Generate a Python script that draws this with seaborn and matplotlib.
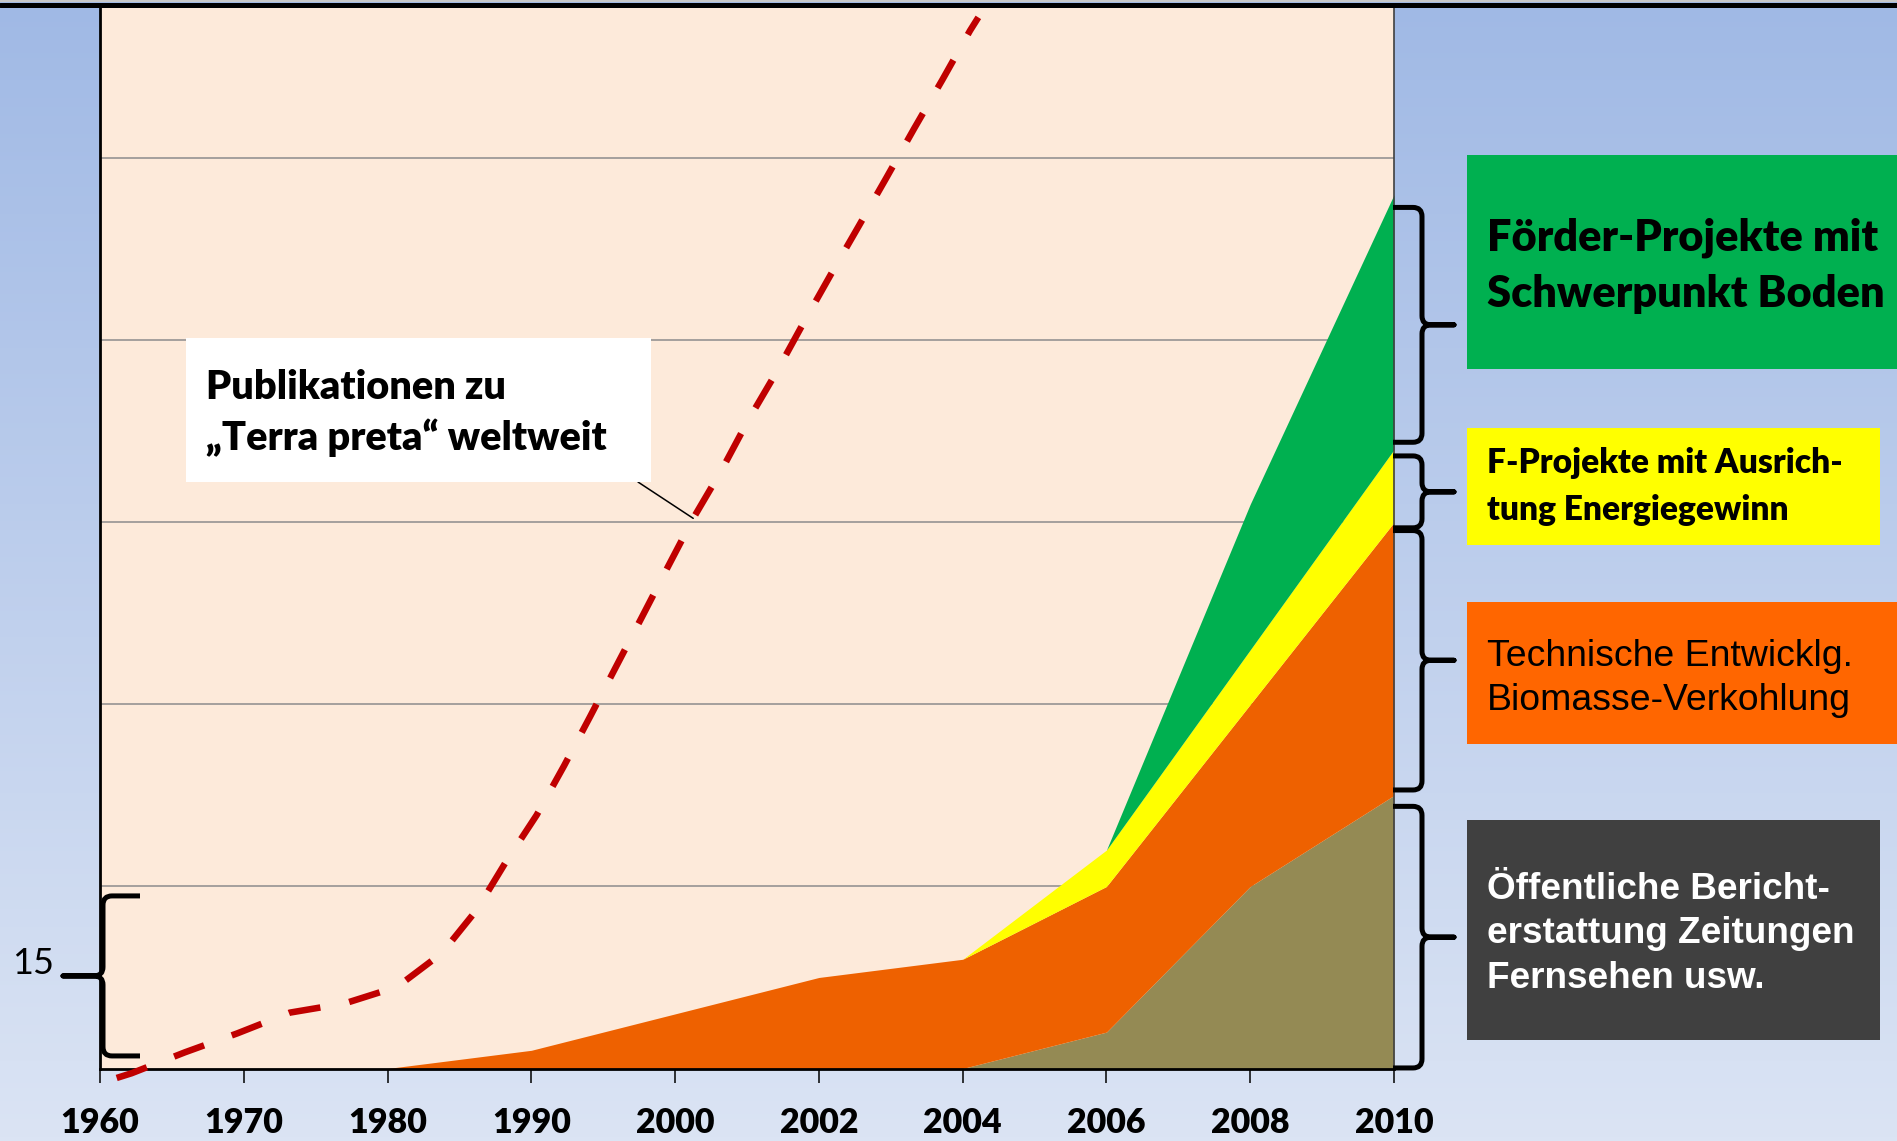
import matplotlib
matplotlib.use("Agg")
import numpy as np
import pandas as pd
import matplotlib.pyplot as plt
import seaborn as sns
from matplotlib.patches import Rectangle, PathPatch
from matplotlib.path import Path
from matplotlib.transforms import IdentityTransform

# ---------------------------------------------------------------- data
years = ["1960", "1970", "1980", "1990", "2000", "2002", "2004", "2006", "2008", "2010"]

# stacked layers, bottom to top
medien = [0, 0, 0, 0, 0, 0, 0, 2, 10, 15]     # Öffentliche Berichterstattung
technik = [0, 0, 0, 1, 3, 5, 6, 8, 10, 15]    # Technische Entwicklung
energie = [0, 0, 0, 0, 0, 0, 0, 2, 3, 4]      # F-Projekte Energiegewinn
boden = [0, 0, 0, 0, 0, 0, 0, 0, 8, 14]       # Förder-Projekte Boden

# publications curve: position on the category axis and value
pub_pos = [0.116, 0.220, 0.591, 0.955, 1.321, 1.704, 2.068, 2.377, 2.620, 2.817,
           3.037, 3.227, 3.408, 3.589, 3.768, 3.948, 4.126, 4.324, 4.509, 4.707,
           4.891, 5.084, 5.279, 5.471, 5.663, 5.858, 6.051, 6.109]
pub_val = [-0.52, -0.26, 0.89, 1.93, 3.07, 3.58, 4.49, 6.33, 8.71, 11.27,
           13.92, 16.62, 19.32, 22.07, 24.78, 27.53, 30.22, 32.88, 35.62, 38.28,
           40.93, 43.63, 46.30, 48.95, 51.64, 54.30, 57.01, 57.74]

pub_label = ["Publikationen zu", "\u201eTerra preta\u201c weltweit"]
box_labels = [
    ["Förder-Projekte mit", "Schwerpunkt Boden"],
    ["F-Projekte mit Ausrich-", "tung Energiegewinn"],
    ["Technische Entwicklg.", "Biomasse-Verkohlung"],
    ["Öffentliche Bericht-", "erstattung Zeitungen", "Fernsehen usw."],
]
left_label = "15"

# value ranges covered by the curly braces
brace_spans = [(34.4, 47.3), (29.7, 33.65), (15.3, 29.55), (0.03, 14.4)]
left_span = (0.69, 9.48)

# ---------------------------------------------------------------- styling
layer_colors = ["#948A54", "#EE6100", "#FFFF00", "#00B050"]
box_colors = ["#00B050", "#FFFF00", "#FF6600", "#404040"]
curve_color = "#C00000"
heavy = "heavy"

sns.set_theme(style="white")
plt.rcParams["font.family"] = ["Lato", "DejaVu Sans"]

W, H = 1897, 1141
fig = plt.figure(figsize=(W / 100, H / 100), dpi=100)
ident = IdentityTransform()


def disp(x, y):
    """pixel position measured from the top-left corner -> display coords"""
    return (x, H - y)


# gradient background
bg = fig.add_axes([0, 0, 1, 1], zorder=-5)
top_c = np.array([160, 185, 229]) / 255
bot_c = np.array([219, 228, 244]) / 255
t = np.linspace(0, 1, 256)[:, None]
grad = (top_c[None, :] * (1 - t) + bot_c[None, :] * t)[:, None, :]
bg.imshow(grad, aspect="auto", extent=[0, 1, 0, 1])
bg.set_axis_off()

# main plot area
ax_l, ax_r, ax_b, ax_t = 100, 1394, 1068.5, 7
ax = fig.add_axes([ax_l / W, (H - ax_b) / H, (ax_r - ax_l) / W, (ax_b - ax_t) / H], zorder=0)
ax.set_facecolor("#FDEADA")

x = np.arange(len(years))
ax.stackplot(x, medien, technik, energie, boden, colors=layer_colors,
             linewidth=0, zorder=2)

pub_df = pd.DataFrame({"pos": pub_pos, "val": pub_val})
sns.lineplot(data=pub_df, x="pos", y="val", sort=False, estimator=None,
             color=curve_color, linewidth=4.7, linestyle=(0, (4.9, 4.5)),
             ax=ax, clip_on=False, zorder=4)

ax.set_xlim(0, 9)
ax.set_ylim(0, 58.31)
ax.set_xlabel("")
ax.set_ylabel("")
ax.set_yticks([10, 20, 30, 40, 50])
ax.grid(axis="y", color="#8C8C8C", linewidth=1.1, zorder=1)
ax.grid(axis="x", visible=False)
ax.set_axisbelow(True)
ax.tick_params(axis="y", length=0, labelleft=False)
ax.set_xticks(x)
ax.set_xticklabels(years, fontweight=heavy, fontsize=25, color="black")
ax.tick_params(axis="x", direction="out", length=10, width=1.1, color="black",
               pad=18, bottom=True)
for side in ("left", "bottom"):
    ax.spines[side].set_color("black")
    ax.spines[side].set_linewidth(2.0)
ax.spines["right"].set_color("#404040")
ax.spines["right"].set_linewidth(1.2)
ax.spines["top"].set_visible(False)

renderer = fig.canvas.get_renderer()


def fit(texts, ref, width):
    w = ref.get_window_extent(renderer).width
    scale = width / w
    for tx in texts:
        tx.set_fontsize(tx.get_fontsize() * scale)


fit(ax.get_xticklabels(), ax.get_xticklabels()[-1], 79)

# frame line along the top edge
fig.add_artist(plt.Line2D([0, 1], [1 - 1 / H, 1 - 1 / H], color="#C8C8C8", lw=1.5,
                          transform=fig.transFigure))
fig.add_artist(plt.Line2D([0, 1], [1 - 4.5 / H, 1 - 4.5 / H], color="black", lw=3.6,
                          transform=fig.transFigure, zorder=6))

# callout box for the publications curve
fig.add_artist(Rectangle(disp(186, 482), 651 - 186, 482 - 338, transform=ident,
                         facecolor="white", edgecolor="none", zorder=3))
ptexts = [fig.text(*disp(205.7, yb), s, transform=ident, fontsize=24, fontweight=heavy,
                   ha="left", va="baseline", color="black", zorder=7)
          for s, yb in zip(pub_label, [399, 450])]
fit(ptexts, ptexts[1], 400)
ax.annotate("", xy=(pub_pos[16], pub_val[16]), xytext=(638, H - 482),
            textcoords="figure pixels",
            arrowprops=dict(arrowstyle="-", color="black", lw=1.1, shrinkA=0, shrinkB=0),
            zorder=5)


def val_to_py(v):
    return H - ax.transData.transform((0, v))[1]


def brace(x_base, x_stem, x_tip, y_top, y_bot, r=9):
    d = 1 if x_tip > x_stem else -1
    ym = (y_top + y_bot) / 2
    verts = [
        (x_base, y_top), (x_stem - d * r, y_top),
        (x_stem, y_top), (x_stem, y_top + r),
        (x_stem, ym - r),
        (x_stem, ym), (x_stem + d * r, ym),
        (x_tip, ym),
        (x_stem + d * r, ym),
        (x_stem, ym), (x_stem, ym + r),
        (x_stem, y_bot - r),
        (x_stem, y_bot), (x_stem - d * r, y_bot),
        (x_base, y_bot),
    ]
    codes = [Path.MOVETO, Path.LINETO,
             Path.CURVE3, Path.CURVE3,
             Path.LINETO,
             Path.CURVE3, Path.CURVE3,
             Path.LINETO,
             Path.LINETO,
             Path.CURVE3, Path.CURVE3,
             Path.LINETO,
             Path.CURVE3, Path.CURVE3,
             Path.LINETO]
    path = Path([disp(*v) for v in verts], codes)
    fig.add_artist(PathPatch(path, transform=ident, facecolor="none", edgecolor="black",
                             lw=3.6, capstyle="butt", joinstyle="round", zorder=6))


for lo, hi in brace_spans:
    brace(1393, 1422, 1454, val_to_py(hi), val_to_py(lo))
brace(140, 103, 63, val_to_py(left_span[1]), val_to_py(left_span[0]))

t15 = fig.text(*disp(54, 964), left_label, transform=ident, fontsize=26, ha="right",
               va="center", color="black", zorder=7)
fit([t15], t15, 42)

# category boxes on the right
box_geom = [(1467, 155, 1905, 369), (1467, 428, 1880, 545),
            (1467, 602, 1905, 744), (1467, 820, 1880, 1040)]
baselines = [[250, 306.7], [473, 520], [666, 710], [899.3, 942.7, 988.3]]
fonts = [("Lato", heavy, "black"), ("Lato", heavy, "black"),
         ("Liberation Sans", "normal", "black"), ("Liberation Sans", "bold", "white")]
ref_idx = [1, 0, 0, 1]
ref_w = [398, 356, 366, 368]
for (x0, y0, x1, y1), col, lines, bls, (fam, wt, tc), ri, rw in zip(
        box_geom, box_colors, box_labels, baselines, fonts, ref_idx, ref_w):
    fig.add_artist(Rectangle(disp(x0, y1), x1 - x0, y1 - y0, transform=ident,
                             facecolor=col, edgecolor="none", zorder=3))
    txts = [fig.text(*disp(1487, yb), s, transform=ident, fontsize=24, fontweight=wt,
                     family=[fam, "DejaVu Sans"], color=tc, ha="left", va="baseline",
                     zorder=7)
            for s, yb in zip(lines, bls)]
    fit(txts, txts[ri], rw)

fig.savefig("out.png", dpi=100)
